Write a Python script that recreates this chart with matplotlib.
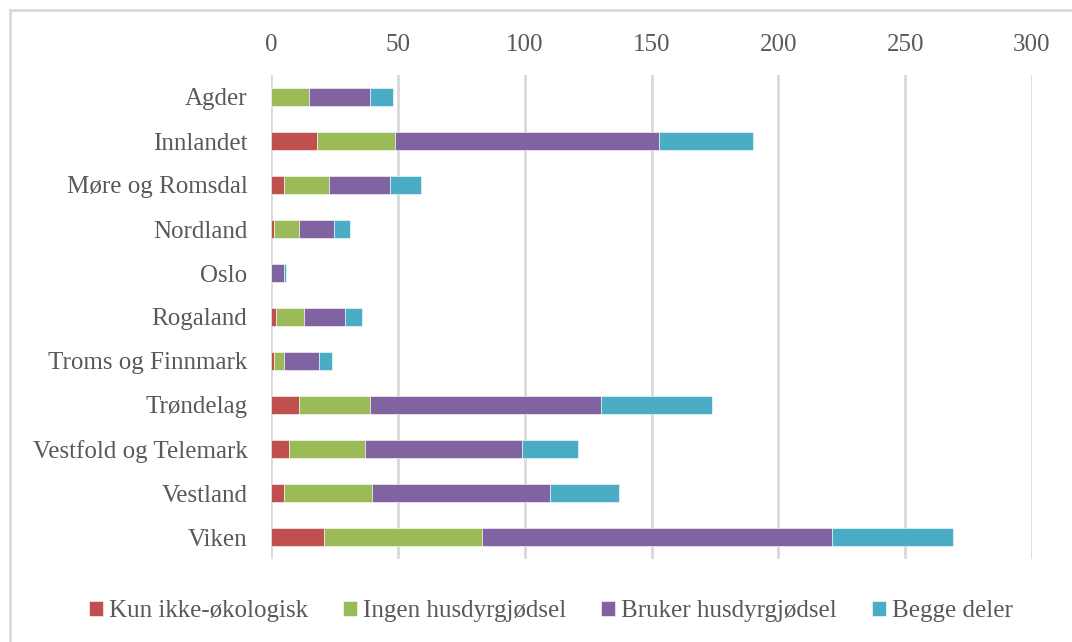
import matplotlib
matplotlib.use("Agg")
import matplotlib.pyplot as plt
from matplotlib.patches import Rectangle

# data
regions = ["Agder", "Innlandet", "Møre og Romsdal", "Nordland", "Oslo", "Rogaland",
           "Troms og Finnmark", "Trøndelag", "Vestfold og Telemark", "Vestland", "Viken"]
kun_ikke_okologisk = [0, 18, 5, 1, 0, 2, 1, 11, 7, 5, 21]
ingen_husdyrgjodsel = [15, 31, 18, 10, 0, 11, 4, 28, 30, 35, 62]
bruker_husdyrgjodsel = [24, 104, 24, 14, 5, 16, 14, 91, 62, 70, 138]
begge_deler = [9, 37, 12, 6, 1, 7, 5, 44, 22, 27, 48]

series = [
    ("Kun ikke-økologisk", kun_ikke_okologisk, "#C0504D"),
    ("Ingen husdyrgjødsel", ingen_husdyrgjodsel, "#9BBB59"),
    ("Bruker husdyrgjødsel", bruker_husdyrgjodsel, "#8064A2"),
    ("Begge deler", begge_deler, "#4BACC6"),
]

plt.rcParams["font.family"] = ["Liberation Serif", "DejaVu Serif"]
txt = "#595959"

fig = plt.figure(figsize=(10.72, 6.42), dpi=100)
ax = fig.add_axes([271 / 1072, 1 - 559 / 642, (1032 - 271) / 1072, (559 - 75) / 642])

y = range(len(regions))
left = [0] * len(regions)
for name, vals, col in series:
    ax.barh(y, vals, left=left, height=0.4, color=col, label=name,
            edgecolor="white", linewidth=0.4, zorder=3)
    left = [a + b for a, b in zip(left, vals)]

ax.set_xlim(0, 300)
ax.set_ylim(10.5, -0.5)
ax.set_xticks(range(0, 301, 50))
ax.set_yticks(list(y))
ax.set_yticklabels(regions)
ax.xaxis.tick_top()
ax.tick_params(axis="both", length=0, labelsize=18, colors=txt)
ax.tick_params(axis="x", pad=14)
ax.tick_params(axis="y", pad=17)
ax.grid(axis="x", color="#D9D9D9", linewidth=2, zorder=0)
for s in ax.spines.values():
    s.set_visible(False)

fig.legend(loc="center", bbox_to_anchor=(0.514, 1 - 611 / 642), ncol=4, frameon=False,
           fontsize=18, handlelength=0.55, handleheight=0.55, handletextpad=0.25,
           columnspacing=1.4, labelcolor=txt)

# chart area border
fig.patches.append(Rectangle((10 / 1072, -0.05), 1.1, 1 - 10 / 642 + 0.05,
                             transform=fig.transFigure, fill=False,
                             edgecolor="#D9D9D9", linewidth=2))

fig.savefig("out.png", dpi=100)
